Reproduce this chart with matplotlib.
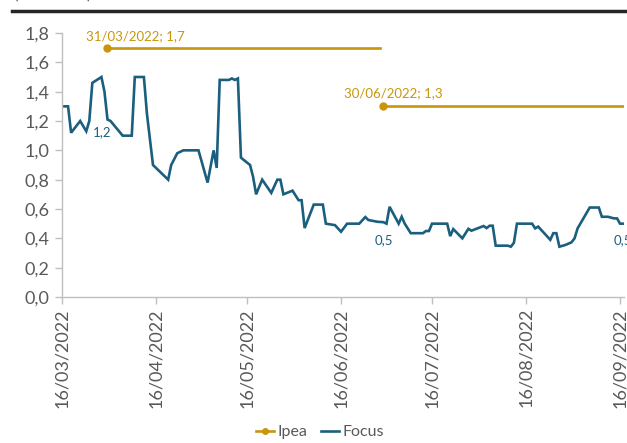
import pandas as pd
import matplotlib.pyplot as plt
import matplotlib.dates as mdates
from matplotlib.lines import Line2D

plt.rcParams["font.family"] = ["Lato", "DejaVu Sans"]

start = pd.Timestamp("2022-03-16")

# Focus expectations: (days after 16/03/2022, value)
focus_days = [0, 2, 3, 6, 8, 9, 10, 13, 14, 15, 16, 20, 23, 24, 27, 28, 30, 35, 36, 38,
              40, 45, 48, 50, 51, 52, 55, 56, 57, 58, 59, 62, 63, 64, 66, 69, 71, 72, 73,
              76, 78, 79, 80, 83, 86, 87, 90, 92, 94, 98, 100, 101, 104, 106, 107, 108,
              111, 112, 113, 115, 119, 120, 121, 122, 127, 128, 129, 132, 134, 135, 137,
              139, 140, 141, 142, 143, 147, 148, 149, 150, 153, 155, 156, 157, 161, 162,
              163, 164, 166, 168, 169, 170, 174, 177, 178, 180, 182, 183, 184, 185]
focus_vals = [1.30, 1.30, 1.12, 1.20, 1.13, 1.20, 1.46, 1.50, 1.40, 1.21, 1.20, 1.10,
              1.10, 1.50, 1.50, 1.25, 0.90, 0.80, 0.90, 0.98, 1.00, 1.00, 0.78, 1.00,
              0.88, 1.48, 1.48, 1.49, 1.48, 1.49, 0.95, 0.90, 0.82, 0.70, 0.80, 0.71,
              0.80, 0.80, 0.70, 0.725, 0.66, 0.66, 0.47, 0.63, 0.63, 0.50, 0.49, 0.445,
              0.50, 0.50, 0.545, 0.525, 0.513, 0.51, 0.50, 0.615, 0.50, 0.547, 0.50,
              0.435, 0.435, 0.45, 0.45, 0.50, 0.50, 0.415, 0.463, 0.40, 0.465, 0.452,
              0.468, 0.484, 0.47, 0.486, 0.486, 0.35, 0.35, 0.343, 0.37, 0.50, 0.50,
              0.50, 0.468, 0.48, 0.39, 0.435, 0.435, 0.343, 0.355, 0.373, 0.40, 0.468,
              0.61, 0.61, 0.547, 0.547, 0.536, 0.536, 0.50, 0.50]

# Ipea forecasts: each one held flat until the next release
ipea_start = ["2022-03-31", "2022-06-30"]
ipea_end = ["2022-06-29", "2022-09-17"]
ipea_vals = [1.7, 1.3]

focus_dates = [start + pd.Timedelta(days=d) for d in focus_days]
tick_dates = pd.date_range("2022-03-16", periods=7, freq=pd.DateOffset(months=1))

gold = "#C8960C"
teal = "#1B5F7E"
grey = "#595959"

fig = plt.figure(figsize=(6.27, 4.43), dpi=100)
ax = fig.add_axes([62 / 627, 1 - 297 / 443, (624 - 62) / 627, (297 - 33) / 443])

ax.plot(focus_dates, focus_vals, color=teal, lw=1.9, solid_joinstyle="miter")
for s, e, v in zip(ipea_start, ipea_end, ipea_vals):
    ax.plot([pd.Timestamp(s), pd.Timestamp(e)], [v, v], color=gold, lw=1.9)
    ax.plot([pd.Timestamp(s)], [v], "o", color=gold, ms=5)

# data labels
ax.annotate("31/03/2022; 1,7", (pd.Timestamp(ipea_start[0]), ipea_vals[0]),
            xytext=(28, 12), textcoords="offset pixels", ha="center", va="center",
            color=gold, fontsize=9.5)
ax.annotate("30/06/2022; 1,3", (pd.Timestamp(ipea_start[1]), ipea_vals[1]),
            xytext=(10, 13), textcoords="offset pixels", ha="center", va="center",
            color=gold, fontsize=9.5)
ax.annotate("1,2", (pd.Timestamp("2022-03-31"), 1.2), xytext=(-5, -11),
            textcoords="offset pixels", ha="center", va="center", color=teal, fontsize=9.5)
ax.annotate("0,5", (pd.Timestamp("2022-06-30"), 0.5), xytext=(0, -16),
            textcoords="offset pixels", ha="center", va="center", color=teal, fontsize=9.5)
ax.annotate("0,5", (focus_dates[-1], focus_vals[-1]), xytext=(0, -16),
            textcoords="offset pixels", ha="center", va="center", color=teal,
            fontsize=9.5, annotation_clip=False)

ax.set_ylim(0, 1.8)
ax.set_xlim(start, start + pd.Timedelta(days=185.3))
ax.set_yticks([i / 10 for i in range(0, 19, 2)])
ax.set_yticklabels([f"{i / 10:.1f}".replace(".", ",") for i in range(0, 19, 2)])
ax.set_xticks(tick_dates)
ax.xaxis.set_major_formatter(mdates.DateFormatter("%d/%m/%Y"))
ax.tick_params(axis="x", rotation=90, labelsize=13, colors="#BFBFBF",
               labelcolor=grey, length=5, width=1, pad=3)
ax.tick_params(axis="y", labelsize=13, colors="#BFBFBF", labelcolor=grey,
               length=5, width=1, pad=4)
for side in ["top", "right"]:
    ax.spines[side].set_visible(False)
for side in ["left", "bottom"]:
    ax.spines[side].set_color("#BFBFBF")
    ax.spines[side].set_linewidth(1)

# header remnant: caption cut off at the top and black rule
fig.text(14 / 627, 1.012, "(em % a.a.)", ha="left", va="center", fontsize=12, color=grey)
fig.add_artist(Line2D([12 / 627, 1], [1 - 11 / 443] * 2, color="#262626", lw=2.5))

handles = [Line2D([], [], color=gold, lw=1.9, marker="o", ms=4, markevery=[0]),
           Line2D([], [], color=teal, lw=1.9)]
fig.legend(handles, ["Ipea", "Focus"], loc="center", bbox_to_anchor=(320 / 627, 1 - 432 / 443),
           ncol=2, frameon=False, fontsize=11.5, handlelength=1.1, handletextpad=0.2,
           columnspacing=0.9, labelcolor=grey)

fig.savefig("out.png", dpi=100)
